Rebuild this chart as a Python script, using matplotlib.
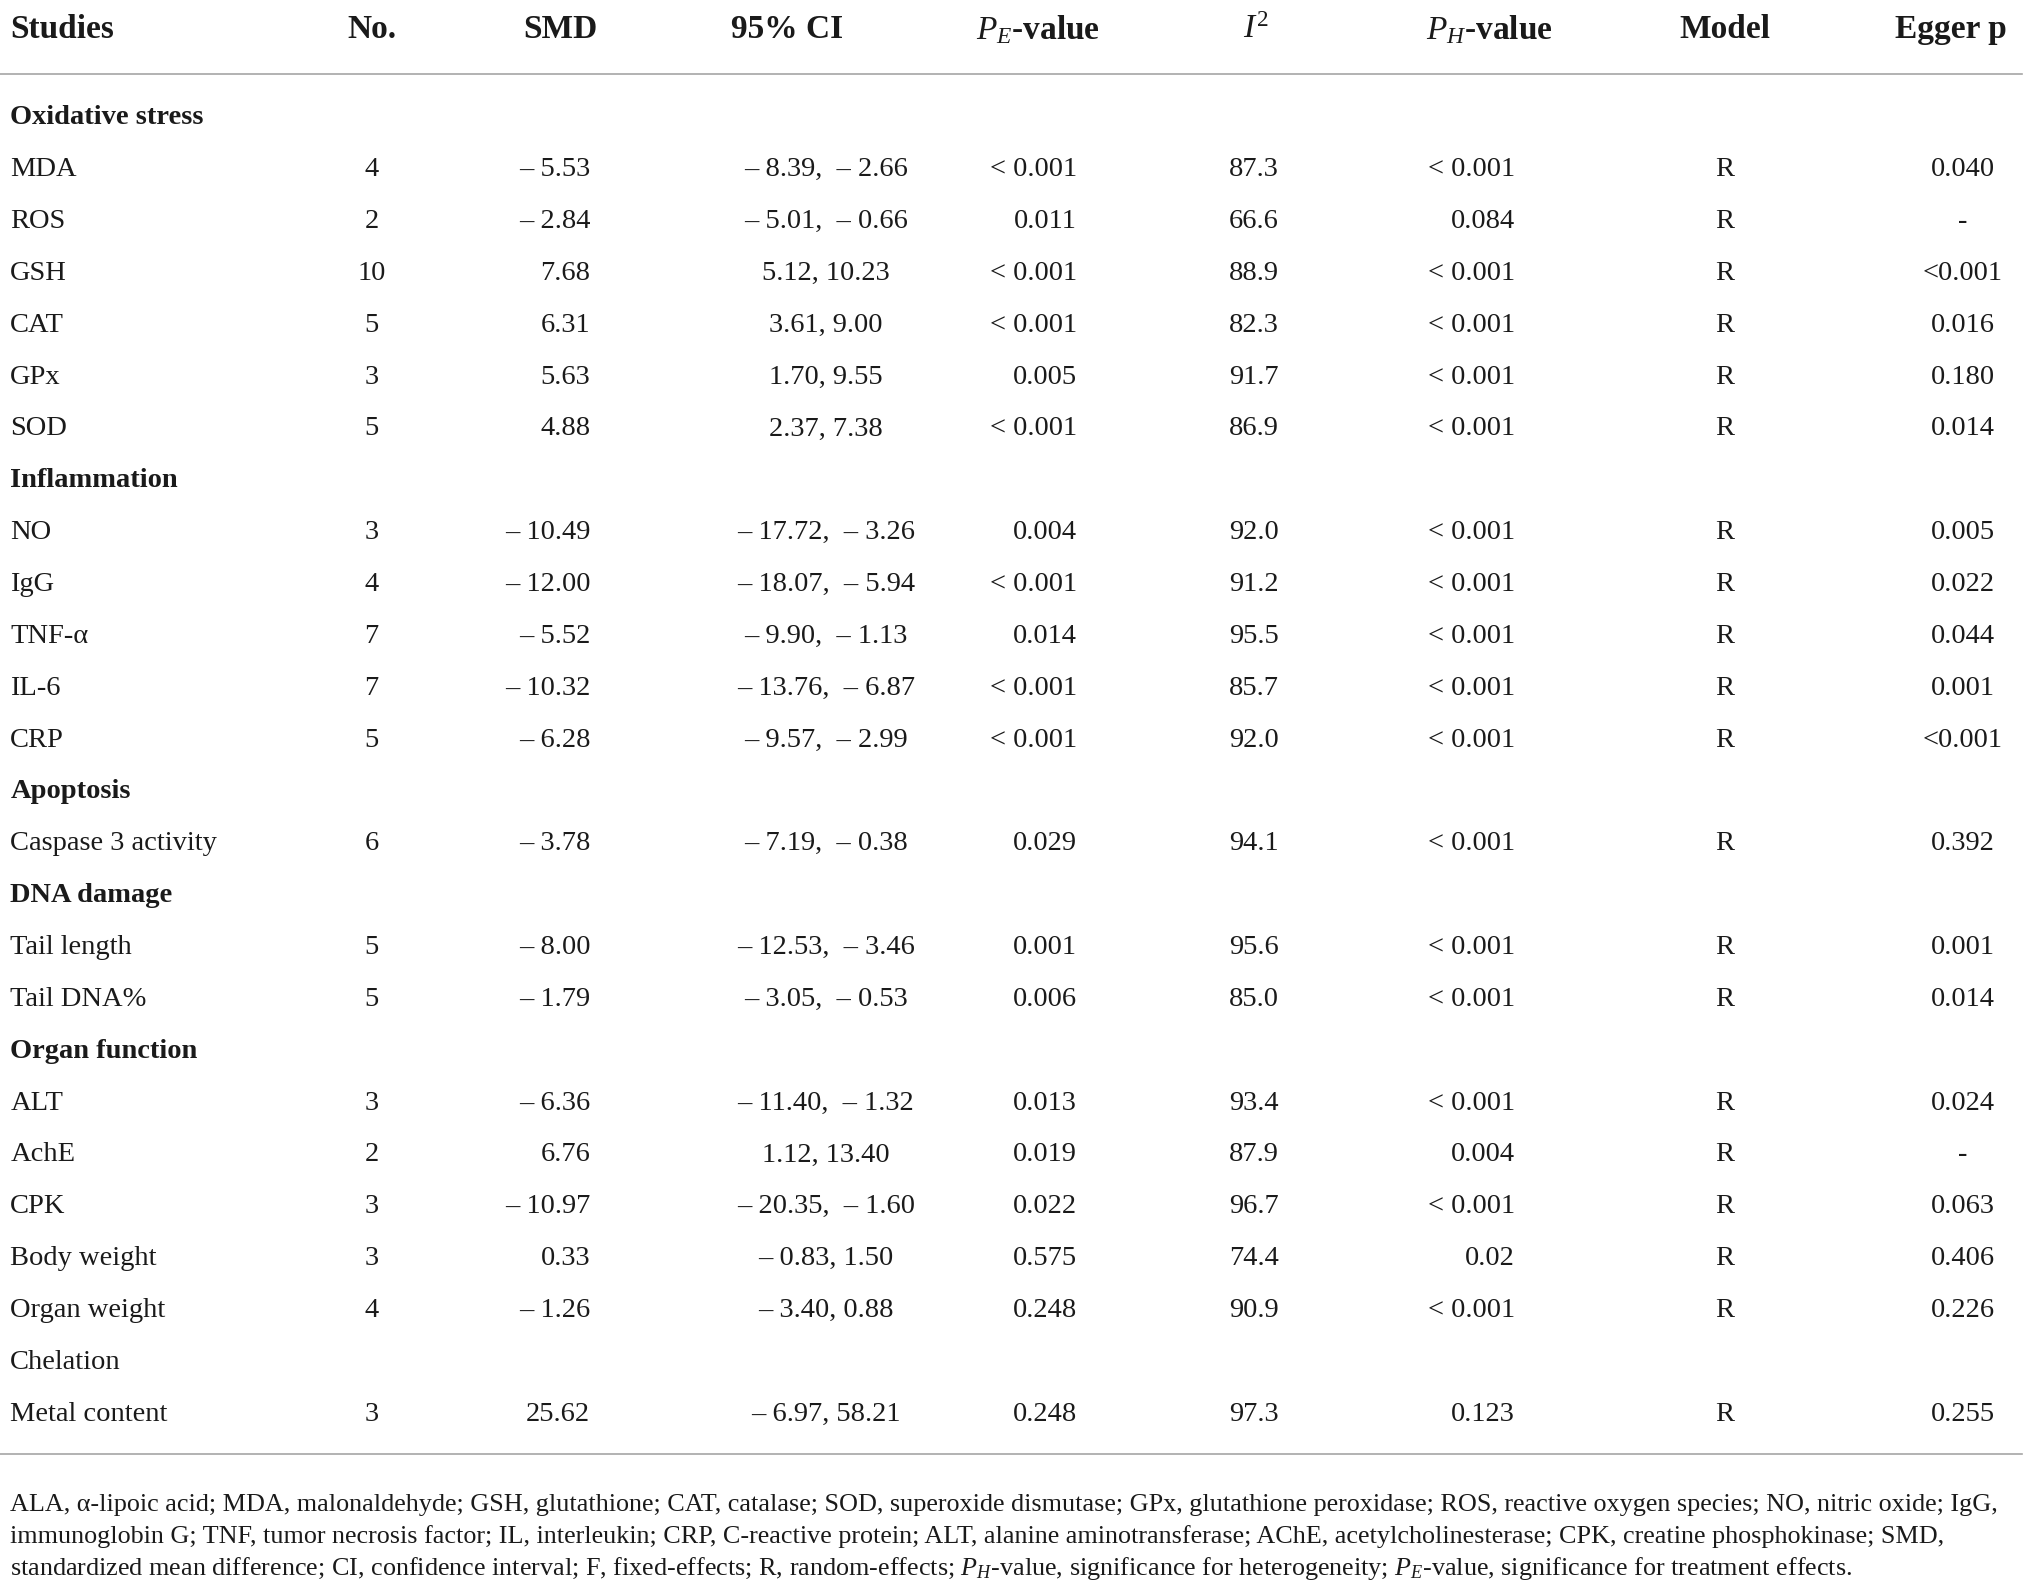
import matplotlib
matplotlib.use("Agg")
import matplotlib.pyplot as plt
from matplotlib.lines import Line2D

plt.rcParams['font.family'] = ['Liberation Serif', 'DejaVu Serif']
plt.rcParams['mathtext.fontset'] = 'custom'
plt.rcParams['mathtext.rm'] = 'Liberation Serif'
plt.rcParams['mathtext.it'] = 'Liberation Serif:italic'
plt.rcParams['mathtext.bf'] = 'Liberation Serif:bold'

# table content
headers = ['Studies', 'No.', 'SMD', '95% CI', '$P_E$-value', '$I^2$', '$P_H$-value', 'Model', 'Egger p']

studies = ['Oxidative stress', 'MDA', 'ROS', 'GSH', 'CAT', 'GPx', 'SOD',
           'Inflammation', 'NO', 'IgG', 'TNF-α', 'IL-6', 'CRP',
           'Apoptosis', 'Caspase 3 activity',
           'DNA damage', 'Tail length', 'Tail DNA%',
           'Organ function', 'ALT', 'AchE', 'CPK', 'Body weight', 'Organ weight',
           'Chelation', 'Metal content']
bold_rows = ['Oxidative stress', 'Inflammation', 'Apoptosis', 'DNA damage', 'Organ function']

n_studies = ['', '4', '2', '10', '5', '3', '5',
             '', '3', '4', '7', '7', '5',
             '', '6',
             '', '5', '5',
             '', '3', '2', '3', '3', '4',
             '', '3']
smd = ['', '– 5.53', '– 2.84', '7.68', '6.31', '5.63', '4.88',
       '', '– 10.49', '– 12.00', '– 5.52', '– 10.32', '– 6.28',
       '', '– 3.78',
       '', '– 8.00', '– 1.79',
       '', '– 6.36', '6.76', '– 10.97', '0.33', '– 1.26',
       '', '25.62']
ci = ['', '– 8.39,  – 2.66', '– 5.01,  – 0.66', '5.12, 10.23', '3.61, 9.00', '1.70, 9.55', '2.37, 7.38',
      '', '– 17.72,  – 3.26', '– 18.07,  – 5.94', '– 9.90,  – 1.13', '– 13.76,  – 6.87', '– 9.57,  – 2.99',
      '', '– 7.19,  – 0.38',
      '', '– 12.53,  – 3.46', '– 3.05,  – 0.53',
      '', '– 11.40,  – 1.32', '1.12, 13.40', '– 20.35,  – 1.60', '– 0.83, 1.50', '– 3.40, 0.88',
      '', '– 6.97, 58.21']
p_e = ['', '< 0.001', '0.011', '< 0.001', '< 0.001', '0.005', '< 0.001',
       '', '0.004', '< 0.001', '0.014', '< 0.001', '< 0.001',
       '', '0.029',
       '', '0.001', '0.006',
       '', '0.013', '0.019', '0.022', '0.575', '0.248',
       '', '0.248']
i2 = ['', '87.3', '66.6', '88.9', '82.3', '91.7', '86.9',
      '', '92.0', '91.2', '95.5', '85.7', '92.0',
      '', '94.1',
      '', '95.6', '85.0',
      '', '93.4', '87.9', '96.7', '74.4', '90.9',
      '', '97.3']
p_h = ['', '< 0.001', '0.084', '< 0.001', '< 0.001', '< 0.001', '< 0.001',
       '', '< 0.001', '< 0.001', '< 0.001', '< 0.001', '< 0.001',
       '', '< 0.001',
       '', '< 0.001', '< 0.001',
       '', '< 0.001', '0.004', '< 0.001', '0.02', '< 0.001',
       '', '0.123']
model = ['', 'R', 'R', 'R', 'R', 'R', 'R',
         '', 'R', 'R', 'R', 'R', 'R',
         '', 'R',
         '', 'R', 'R',
         '', 'R', 'R', 'R', 'R', 'R',
         '', 'R']
egger = ['', '0.040', '-', '<0.001', '0.016', '0.180', '0.014',
         '', '0.005', '0.022', '0.044', '0.001', '<0.001',
         '', '0.392',
         '', '0.001', '0.014',
         '', '0.024', '-', '0.063', '0.406', '0.226',
         '', '0.255']

footnote = [
    'ALA, α-lipoic acid; MDA, malonaldehyde; GSH, glutathione; CAT, catalase; SOD, superoxide dismutase; '
    'GPx, glutathione peroxidase; ROS, reactive oxygen species; NO, nitric oxide; IgG,',
    'immunoglobin G; TNF, tumor necrosis factor; IL, interleukin; CRP, C-reactive protein; ALT, alanine '
    'aminotransferase; AChE, acetylcholinesterase; CPK, creatine phosphokinase; SMD,',
    'standardized mean difference; CI, confidence interval; F, fixed-effects; R, random-effects; '
    '$P_H$-value, significance for heterogeneity; $P_E$-value, significance for treatment effects.',
]

# layout in a 1568 x 1227 reference frame
W, H = 1568.0, 1227.0
col_x = [8, 287, 456, 638, 832, 988, 1170, 1332, 1516]
col_ha = ['left', 'center', 'right', 'center', 'right', 'right', 'right', 'center', 'center']
head_x = [8, 287, 433, 608, 802, 970, 1150, 1332, 1507]
head_ha = ['left', 'center', 'center', 'center', 'center', 'center', 'center', 'center', 'center']

fig = plt.figure(figsize=(20.3, 15.89), dpi=100)
fig.patch.set_facecolor('white')
txt_color = '#1a1a1a'
fs = 20.5

def fx(x):
    return x / W

def fy(y):
    return 1 - y / H

for h, x, ha in zip(headers, head_x, head_ha):
    fig.text(fx(x), fy(23), h, ha=ha, va='center', fontsize=24, fontweight='bold', color=txt_color)

line_kw = dict(color='#a6a6a6', linewidth=1.2, transform=fig.transFigure)
fig.add_artist(Line2D([0, fx(1562)], [fy(57), fy(57)], **line_kw))
fig.add_artist(Line2D([0, fx(1562)], [fy(1123), fy(1123)], **line_kw))

columns = [studies, n_studies, smd, ci, p_e, i2, p_h, model, egger]
y0, dy = 91, 40.04
for i in range(len(studies)):
    y = fy(y0 + i * dy)
    for c, (vals, x, ha) in enumerate(zip(columns, col_x, col_ha)):
        if not vals[i]:
            continue
        weight = 'bold' if (c == 0 and vals[i] in bold_rows) else 'normal'
        fig.text(fx(x), y, vals[i], ha=ha, va='center', fontsize=fs,
                 fontweight=weight, color=txt_color)

for k, line in enumerate(footnote):
    fig.text(fx(8), fy(1162 + k * 24.5), line, ha='left', va='center', fontsize=18.8, color=txt_color)

fig.savefig('out.png', dpi=100, facecolor='white')
